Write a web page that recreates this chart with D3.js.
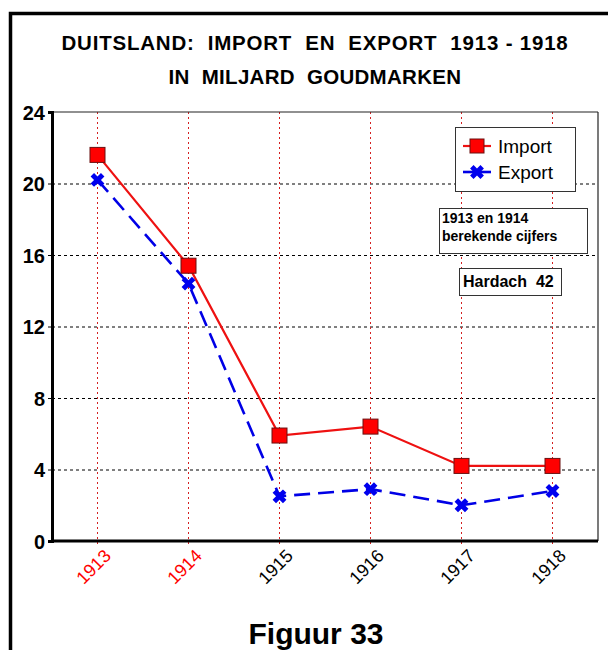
<!DOCTYPE html>
<html>
<head>
<meta charset="utf-8">
<script src="https://cdn.jsdelivr.net/npm/d3@7"></script>
<style>
  body { margin: 0; background: #fff; }
  svg { display: block; font-family: Arial, "Liberation Sans", sans-serif; }
</style>
</head>
<body>
<div id="chart"></div>
<script>
// data
var years = ["1913", "1914", "1915", "1916", "1917", "1918"];
var importValues = [21.6, 15.4, 5.9, 6.4, 4.2, 4.2];
var exportValues = [20.2, 14.4, 2.5, 2.9, 2.0, 2.8];
var yTicks = [0, 4, 8, 12, 16, 20, 24];
var redYears = ["1913", "1914"];

var W = 608, H = 650;
var margin = {top: 112, right: 10, bottom: 109, left: 52};
var plotW = W - margin.left - margin.right,
    plotH = H - margin.top - margin.bottom;

var svg = d3.select("#chart").append("svg")
    .attr("width", W)
    .attr("height", H);

// outer frame (only top and left visible)
svg.append("rect")
    .attr("x", 10.5).attr("y", 13.5)
    .attr("width", 700).attr("height", 700)
    .attr("fill", "none")
    .attr("stroke", "#000")
    .attr("stroke-width", 3.5);

// titles
svg.append("text")
    .attr("x", 315).attr("y", 50)
    .attr("text-anchor", "middle")
    .style("font-size", "20.5px").style("font-weight", "bold")
    .style("white-space", "pre")
    .style("letter-spacing", "0.8px")
    .text("DUITSLAND:  IMPORT  EN  EXPORT  1913 - 1918");

svg.append("text")
    .attr("x", 315).attr("y", 84)
    .attr("text-anchor", "middle")
    .style("font-size", "20.5px").style("font-weight", "bold")
    .style("white-space", "pre")
    .style("letter-spacing", "0.3px")
    .text("IN  MILJARD  GOUDMARKEN");

svg.append("text")
    .attr("x", 316).attr("y", 644)
    .attr("text-anchor", "middle")
    .style("font-size", "30px").style("font-weight", "bold")
    .text("Figuur 33");

var g = svg.append("g")
    .attr("transform", "translate(" + margin.left + "," + margin.top + ")");

// scales
var x = d3.scalePoint().domain(years).range([0, plotW]).padding(0.5);
var y = d3.scaleLinear().domain([0, 24]).range([plotH, 0]);

// horizontal grid
g.append("g")
    .attr("class", "grid")
    .call(d3.axisLeft(y).tickValues(yTicks.slice(1, -1)).tickSize(-plotW).tickFormat(""))
    .call(function(s) {
        s.select(".domain").remove();
        s.selectAll("line").attr("stroke", "#000").attr("stroke-width", 1).attr("stroke-dasharray", "3,3");
    });

// vertical red dotted grid
g.append("g")
    .selectAll("line")
    .data(years)
    .enter().append("line")
    .attr("x1", function(d) { return x(d); })
    .attr("x2", function(d) { return x(d); })
    .attr("y1", 0)
    .attr("y2", plotH + 6)
    .attr("stroke", "#d42020")
    .attr("stroke-width", 1)
    .attr("stroke-dasharray", "2,3");

// top and right frame of the plot
g.append("line").attr("x1", 0).attr("x2", plotW).attr("y1", 0).attr("y2", 0)
    .attr("stroke", "#222").attr("stroke-width", 1.2);
g.append("line").attr("x1", plotW).attr("x2", plotW).attr("y1", 0).attr("y2", plotH)
    .attr("stroke", "#222").attr("stroke-width", 1.2);

// y axis
var yAxis = g.append("g")
    .call(d3.axisLeft(y).tickValues(yTicks).tickSize(4).tickPadding(3));
yAxis.select(".domain").attr("stroke", "#000").attr("stroke-width", 3);
yAxis.selectAll("text")
    .style("font-size", "20px").style("font-weight", "bold")
    .style("font-family", "Arial, 'Liberation Sans', sans-serif")
    .attr("fill", "#000").attr("dy", "0.36em");

// x axis
var xAxis = g.append("g")
    .attr("transform", "translate(0," + plotH + ")")
    .call(d3.axisBottom(x).tickSize(0).tickPadding(0));
xAxis.select(".domain").attr("d", "M0,0H" + plotW).attr("stroke", "#000").attr("stroke-width", 3);
xAxis.selectAll("text")
    .style("font-size", "18px")
    .style("font-family", "Arial, 'Liberation Sans', sans-serif")
    .attr("text-anchor", "end")
    .attr("dy", null)
    .attr("y", 0)
    .attr("transform", "translate(14,16) rotate(-45)")
    .attr("fill", function(d) { return redYears.indexOf(d) >= 0 ? "#ff0000" : "#000"; });

// lines
var importData = years.map(function(d, i) { return {year: d, value: importValues[i]}; });
var exportData = years.map(function(d, i) { return {year: d, value: exportValues[i]}; });

var line = d3.line()
    .x(function(d) { return x(d.year); })
    .y(function(d) { return y(d.value); });

g.append("path")
    .datum(exportData)
    .attr("fill", "none")
    .attr("stroke", "#0000e6")
    .attr("stroke-width", 2.6)
    .attr("stroke-dasharray", "16,8")
    .attr("d", line);

g.append("path")
    .datum(importData)
    .attr("fill", "none")
    .attr("stroke", "#ee1111")
    .attr("stroke-width", 2.2)
    .attr("d", line);

var cross = d3.symbol().type(d3.symbolCross).size(120);

g.selectAll(".exp")
    .data(exportData)
    .enter().append("path")
    .attr("class", "exp")
    .attr("d", cross)
    .attr("transform", function(d) { return "translate(" + x(d.year) + "," + y(d.value) + ") rotate(45)"; })
    .attr("fill", "#0000ee");

g.selectAll(".imp")
    .data(importData)
    .enter().append("rect")
    .attr("class", "imp")
    .attr("x", function(d) { return x(d.year) - 7.5; })
    .attr("y", function(d) { return y(d.value) - 7.5; })
    .attr("width", 15).attr("height", 15)
    .attr("fill", "#ff0000")
    .attr("stroke", "#6a1010")
    .attr("stroke-width", 1);

// legend
var legend = svg.append("g");
legend.append("rect")
    .attr("x", 455.5).attr("y", 127.5).attr("width", 120).attr("height", 64)
    .attr("fill", "#fff").attr("stroke", "#333").attr("stroke-width", 1);

legend.append("line").attr("x1", 463).attr("x2", 491).attr("y1", 146).attr("y2", 146)
    .attr("stroke", "#ee1111").attr("stroke-width", 2.2);
legend.append("rect").attr("x", 470).attr("y", 139).attr("width", 14).attr("height", 14)
    .attr("fill", "#ff0000").attr("stroke", "#6a1010");
legend.append("text").attr("x", 498).attr("y", 153)
    .style("font-size", "19px").text("Import");

legend.append("line").attr("x1", 463).attr("x2", 491).attr("y1", 172).attr("y2", 172)
    .attr("stroke", "#0000e6").attr("stroke-width", 2.6);
legend.append("path").attr("d", cross)
    .attr("transform", "translate(477,172) rotate(45)")
    .attr("fill", "#0000ee");
legend.append("text").attr("x", 498).attr("y", 179)
    .style("font-size", "19px").text("Export");

// notes
var note = svg.append("g");
note.append("rect")
    .attr("x", 439.5).attr("y", 208.5).attr("width", 148).attr("height", 45)
    .attr("fill", "#fff").attr("stroke", "#333").attr("stroke-width", 1);
note.append("text").attr("x", 442).attr("y", 223)
    .style("font-size", "14px").style("font-weight", "bold").text("1913 en 1914");
note.append("text").attr("x", 442).attr("y", 241)
    .style("font-size", "14px").style("font-weight", "bold").text("berekende cijfers");

note.append("rect")
    .attr("x", 459.5).attr("y", 268.5).attr("width", 102).attr("height", 27)
    .attr("fill", "#fff").attr("stroke", "#333").attr("stroke-width", 1);
note.append("text").attr("x", 463).attr("y", 287)
    .style("font-size", "16px").style("font-weight", "bold")
    .style("white-space", "pre")
    .text("Hardach  42");
</script>
</body>
</html>
